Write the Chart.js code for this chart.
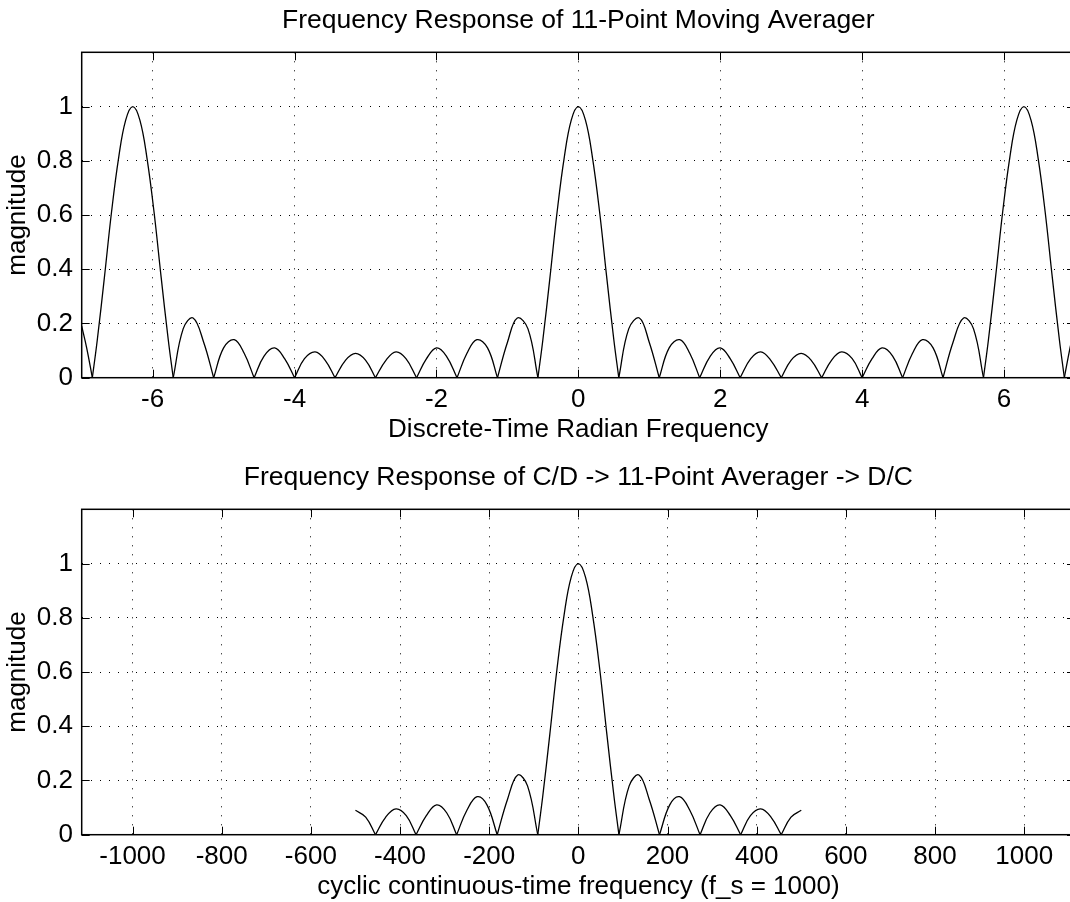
<!DOCTYPE html>
<html>
<head>
<meta charset="utf-8">
<script src="https://cdn.jsdelivr.net/npm/chart.js@4.4.0/dist/chart.umd.min.js"></script>
<style>
    html, body { margin: 0; padding: 0; overflow: hidden; background: #fff; width: 1070px; height: 902px; }
    canvas { position: absolute; left: 0; }
    #topChart { top: 0; }
    #bottomChart { top: 457px; }
</style>
</head>
<body>
<canvas id="topChart" width="1080" height="457"></canvas>
<canvas id="bottomChart" width="1080" height="457"></canvas>
<script>
// top plot: discrete-time radian frequency
const radFreq = [
    -7.00, -6.93, -6.85,
    -6.78, -6.68, -6.58, -6.48, -6.38, -6.28, -6.18, -6.08, -5.98, -5.88, -5.78, -5.71,
    -5.57, -5.43, -5.28, -5.14,
    -5.00, -4.85, -4.71, -4.57,
    -4.43, -4.28, -4.14, -4.00,
    -3.86, -3.71, -3.57, -3.43,
    -3.28, -3.14, -3.00, -2.86,
    -2.71, -2.57, -2.43, -2.28,
    -2.14, -2.00, -1.86, -1.71,
    -1.57, -1.43, -1.28, -1.14,
    -1.00, -0.86, -0.71, -0.57,
    -0.50, -0.40, -0.30, -0.20, -0.10, 0, 0.10, 0.20, 0.30, 0.40, 0.50, 0.57,
    0.71, 0.86, 1.00, 1.14,
    1.28, 1.43, 1.57, 1.71,
    1.86, 2.00, 2.14, 2.28,
    2.43, 2.57, 2.71, 2.86,
    3.00, 3.14, 3.28, 3.43,
    3.57, 3.71, 3.86, 4.00,
    4.14, 4.28, 4.43, 4.57,
    4.71, 4.85, 5.00, 5.14,
    5.28, 5.43, 5.57, 5.71,
    5.78, 5.88, 5.98, 6.08, 6.18, 6.28, 6.38, 6.48, 6.58, 6.68, 6.78, 6.85,
    6.93, 7.00
];
const radMag = [
    0.19, 0.11, 0,
    0.14, 0.37, 0.61, 0.81, 0.95, 1.00, 0.95, 0.81, 0.61, 0.37, 0.14, 0,
    0.18, 0.22, 0.13, 0,
    0.11, 0.14, 0.09, 0,
    0.08, 0.11, 0.07, 0,
    0.07, 0.095, 0.065, 0,
    0.065, 0.09, 0.065, 0,
    0.065, 0.095, 0.07, 0,
    0.07, 0.11, 0.08, 0,
    0.09, 0.14, 0.11, 0,
    0.13, 0.22, 0.18, 0,
    0.14, 0.37, 0.61, 0.81, 0.95, 1.00, 0.95, 0.81, 0.61, 0.37, 0.14, 0,
    0.18, 0.22, 0.13, 0,
    0.11, 0.14, 0.09, 0,
    0.08, 0.11, 0.07, 0,
    0.07, 0.095, 0.065, 0,
    0.065, 0.09, 0.065, 0,
    0.065, 0.095, 0.07, 0,
    0.07, 0.11, 0.08, 0,
    0.09, 0.14, 0.11, 0,
    0.13, 0.22, 0.18, 0,
    0.14, 0.37, 0.61, 0.81, 0.95, 1.00, 0.95, 0.81, 0.61, 0.37, 0.14, 0,
    0.11, 0.19
];
const radTicks = [-6, -4, -2, 0, 2, 4, 6];
const radRange = [-7, 7];

// bottom plot: cyclic continuous-time frequency
const cyclicFreq = [
    -500, -477, -455,
    -432, -409, -386, -364,
    -341, -318, -295, -273,
    -250, -227, -205, -182,
    -159, -136, -114, -91,
    -80, -64, -48, -32, -16, 0, 16, 32, 48, 64, 80, 91,
    114, 136, 159, 182,
    205, 227, 250, 273,
    295, 318, 341, 364,
    386, 409, 432, 455,
    477, 500
];
const cyclicMag = [
    0.09, 0.065, 0,
    0.065, 0.095, 0.07, 0,
    0.07, 0.11, 0.08, 0,
    0.09, 0.14, 0.11, 0,
    0.13, 0.22, 0.18, 0,
    0.14, 0.37, 0.61, 0.81, 0.95, 1.00, 0.95, 0.81, 0.61, 0.37, 0.14, 0,
    0.18, 0.22, 0.13, 0,
    0.11, 0.14, 0.09, 0,
    0.08, 0.11, 0.07, 0,
    0.07, 0.095, 0.065, 0,
    0.065, 0.09
];
const cyclicTicks = [-1000, -800, -600, -400, -200, 0, 200, 400, 600, 800, 1000];
const cyclicRange = [-1114, 1114];

const magTicks = [0, 0.2, 0.4, 0.6, 0.8, 1];

Chart.defaults.font.family = '"Liberation Sans", Arial, Helvetica, sans-serif';
Chart.defaults.font.size = 26;
Chart.defaults.color = '#000';

// each lobe (zero to zero) gets its own dataset so the curve has sharp cusps at the zeros
function splitLobes(xs, ys) {
    const out = [];
    let cur = [];
    xs.forEach((x, i) => {
        cur.push({ x, y: ys[i] });
        if (ys[i] === 0 && cur.length > 1) {
            out.push(cur);
            cur = [{ x, y: 0 }];
        }
    });
    if (cur.length > 1) out.push(cur);
    return out;
}

// matlab style box with inward ticks
const boxTicks = {
    id: 'boxTicks',
    afterDraw(chart) {
        const { ctx, chartArea: a, scales: { x, y } } = chart;
        ctx.save();
        ctx.strokeStyle = '#000';
        ctx.lineWidth = 1;
        ctx.beginPath();
        x.ticks.forEach(t => {
            const px = Math.round(x.getPixelForValue(t.value)) + 0.5;
            ctx.moveTo(px, a.bottom); ctx.lineTo(px, a.bottom - 8);
            ctx.moveTo(px, a.top); ctx.lineTo(px, a.top + 8);
        });
        y.ticks.forEach(t => {
            const py = Math.round(y.getPixelForValue(t.value)) + 0.5;
            ctx.moveTo(a.left, py); ctx.lineTo(a.left + 8, py);
            ctx.moveTo(a.right, py); ctx.lineTo(a.right - 8, py);
        });
        ctx.stroke();
        ctx.lineWidth = 1.5;
        ctx.strokeRect(a.left, a.top, a.right - a.left, a.bottom - a.top);
        ctx.restore();
    }
};

function makeChart(id, xs, ys, range, ticks, title, xTitle) {
    const datasets = splitLobes(xs, ys).map(pts => ({
        data: pts,
        borderColor: '#000',
        borderWidth: 1.3,
        pointRadius: 0,
        tension: 0.4,
        fill: false
    }));
    return new Chart(document.getElementById(id), {
        type: 'line',
        data: { datasets },
        options: {
            responsive: false,
            animation: false,
            devicePixelRatio: 1,
            layout: { padding: { left: 0, right: 5, top: 0, bottom: 0 } },
            plugins: {
                legend: { display: false },
                tooltip: { enabled: false },
                title: {
                    display: true,
                    fullSize: false,
                    text: title,
                    color: '#000',
                    font: { size: 26.5, weight: 'normal' },
                    padding: { top: 5, bottom: 15.5 }
                }
            },
            scales: {
                x: {
                    type: 'linear',
                    min: range[0],
                    max: range[1],
                    afterBuildTicks: s => { s.ticks = ticks.map(v => ({ value: v })); },
                    afterFit: s => { s.height = 79.3; },
                    ticks: { padding: 6.4, autoSkip: false, maxRotation: 0, callback: v => String(v) },
                    grid: { color: '#000', lineWidth: 1, drawTicks: false },
                    border: { display: false, dash: [1, 8] },
                    title: { display: true, text: xTitle, padding: { top: 0, bottom: 11.4 } }
                },
                y: {
                    min: 0,
                    max: 1.2,
                    afterBuildTicks: s => { s.ticks = magTicks.map(v => ({ value: v })); },
                    afterFit: s => { s.width = 81.7; },
                    ticks: { padding: 8.7, callback: v => String(+v.toFixed(1)) },
                    grid: { color: '#000', lineWidth: 1, drawTicks: false },
                    border: { display: false, dash: [1, 8] },
                    title: { display: true, text: 'magnitude', padding: { top: 1.9, bottom: 0 } }
                }
            }
        },
        plugins: [boxTicks]
    });
}

makeChart('topChart', radFreq, radMag, radRange, radTicks,
    'Frequency Response of 11-Point Moving Averager', 'Discrete-Time Radian Frequency');
makeChart('bottomChart', cyclicFreq, cyclicMag, cyclicRange, cyclicTicks,
    'Frequency Response of C/D -> 11-Point Averager -> D/C', 'cyclic continuous-time frequency (f_s = 1000)');
</script>
</body>
</html>
